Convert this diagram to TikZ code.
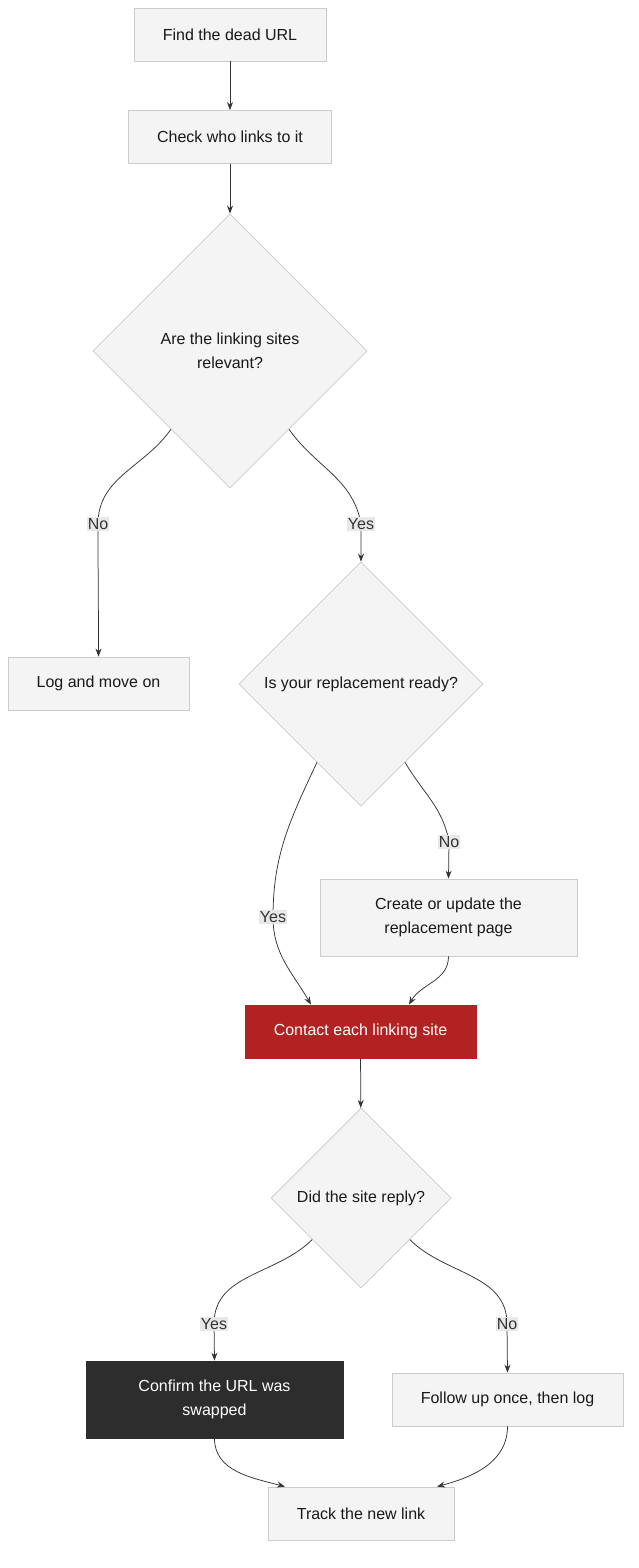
\documentclass[tikz,border=0pt]{standalone}
\usepackage{fontspec}
\setmainfont{Liberation Sans}
\usetikzlibrary{shapes.geometric,calc,arrows.meta}
\definecolor{boxfill}{HTML}{F4F4F4}
\definecolor{boxline}{HTML}{CCCCCC}
\definecolor{edge}{HTML}{333333}
\definecolor{lblbg}{HTML}{E8E8E8}
\definecolor{redfill}{HTML}{B22222}
\definecolor{darkfill}{HTML}{2D2D2D}
\begin{document}
\begin{tikzpicture}[x=1pt,y=-1pt,
  every node/.style={font=\fontsize{16}{24}\selectfont,text=black!90},
  box/.style={draw=boxline,fill=boxfill,line width=0.8pt,minimum height=53pt,align=center,inner sep=0pt},
  dia/.style={diamond,draw=boxline,fill=boxfill,line width=0.8pt,align=center,inner sep=0pt},
  lbl/.style={fill=lblbg,inner sep=1pt,text=black!80},
  arr/.style={draw=edge,line width=0.75pt,-{Stealth[length=8pt,width=6pt]}}]
\useasboundingbox (0,0) rectangle (639,1568);
\node[box,minimum width=192pt] (find) at (230,34.5) {Find the dead URL};
\node[box,minimum width=203pt] (check) at (230,137) {Check who links to it};
\node[dia,minimum width=274pt,minimum height=274pt] (d1) at (230,351) {Are the linking sites\\relevant?};
\node[box,minimum width=181pt] (log) at (98.5,683.5) {Log and move on};
\node[dia,minimum width=244pt,minimum height=244pt] (d2) at (361,684) {Is your replacement ready?};
\node[box,minimum width=257pt,minimum height=77pt] (create) at (448.5,917.5) {Create or update the\\replacement page};
\node[box,draw=redfill,fill=redfill,text=white,minimum width=231pt] (contact) at (360.5,1031.5) {Contact each linking site};
\node[dia,minimum width=180pt,minimum height=180pt] (d3) at (361,1198) {Did the site reply?};
\node[box,draw=darkfill,fill=darkfill,text=white,minimum width=257pt,minimum height=77pt] (confirm) at (214.5,1399.5) {Confirm the URL was\\swapped};
\node[box,minimum width=231pt] (follow) at (507.5,1399.5) {Follow up once, then log};
\node[box,minimum width=186pt] (track) at (361,1513.5) {Track the new link};

\coordinate (l1) at (98,524);
\coordinate (l2) at (361,524);
\coordinate (l3) at (273,917);
\coordinate (l4) at (449,842);
\coordinate (l5) at (214,1324);
\coordinate (l6) at (507,1324);

\draw[arr] (find) -- (check);
\draw[arr] (check) -- (d1);
\draw[arr] ($(d1.south)!0.43!(d1.west)$) to[out=-125,in=90] (l1) to[out=-90,in=90] (log.north);
\draw[arr] ($(d1.south)!0.43!(d1.east)$) to[out=-55,in=100] (l2) -- (d2.north);
\draw[arr] ($(d2.south)!0.36!(d2.west)$) to[out=-115,in=90] (l3) to[out=-90,in=120] ($(contact.north)+(-49.5,0)$);
\draw[arr] ($(d2.south)!0.36!(d2.east)$) to[out=-60,in=100] (l4) -- (create.north);
\draw[arr] (create.south) to[out=-90,in=60] ($(contact.north)+(48.5,0)$);
\draw[arr] (contact) -- (d3);
\draw[arr] ($(d3.south)!0.54!(d3.west)$) to[out=-135,in=90] (l5) -- (confirm.north);
\draw[arr] ($(d3.south)!0.54!(d3.east)$) to[out=-45,in=90] (l6) -- (follow.north);
\draw[arr] (confirm.south) to[out=-90,in=165] ($(track.north)+(-76,0)$);
\draw[arr] (follow.south) to[out=-90,in=15] ($(track.north)+(76,0)$);

\node[lbl] (t1) at (l1) {No};
\node[lbl] (t2) at (l2) {Yes};
\node[lbl] (t3) at (l3) {Yes};
\node[lbl] (t4) at (l4) {No};
\node[lbl] (t5) at (l5) {Yes};
\node[lbl] (t6) at (l6) {No};
\end{tikzpicture}
\end{document}
